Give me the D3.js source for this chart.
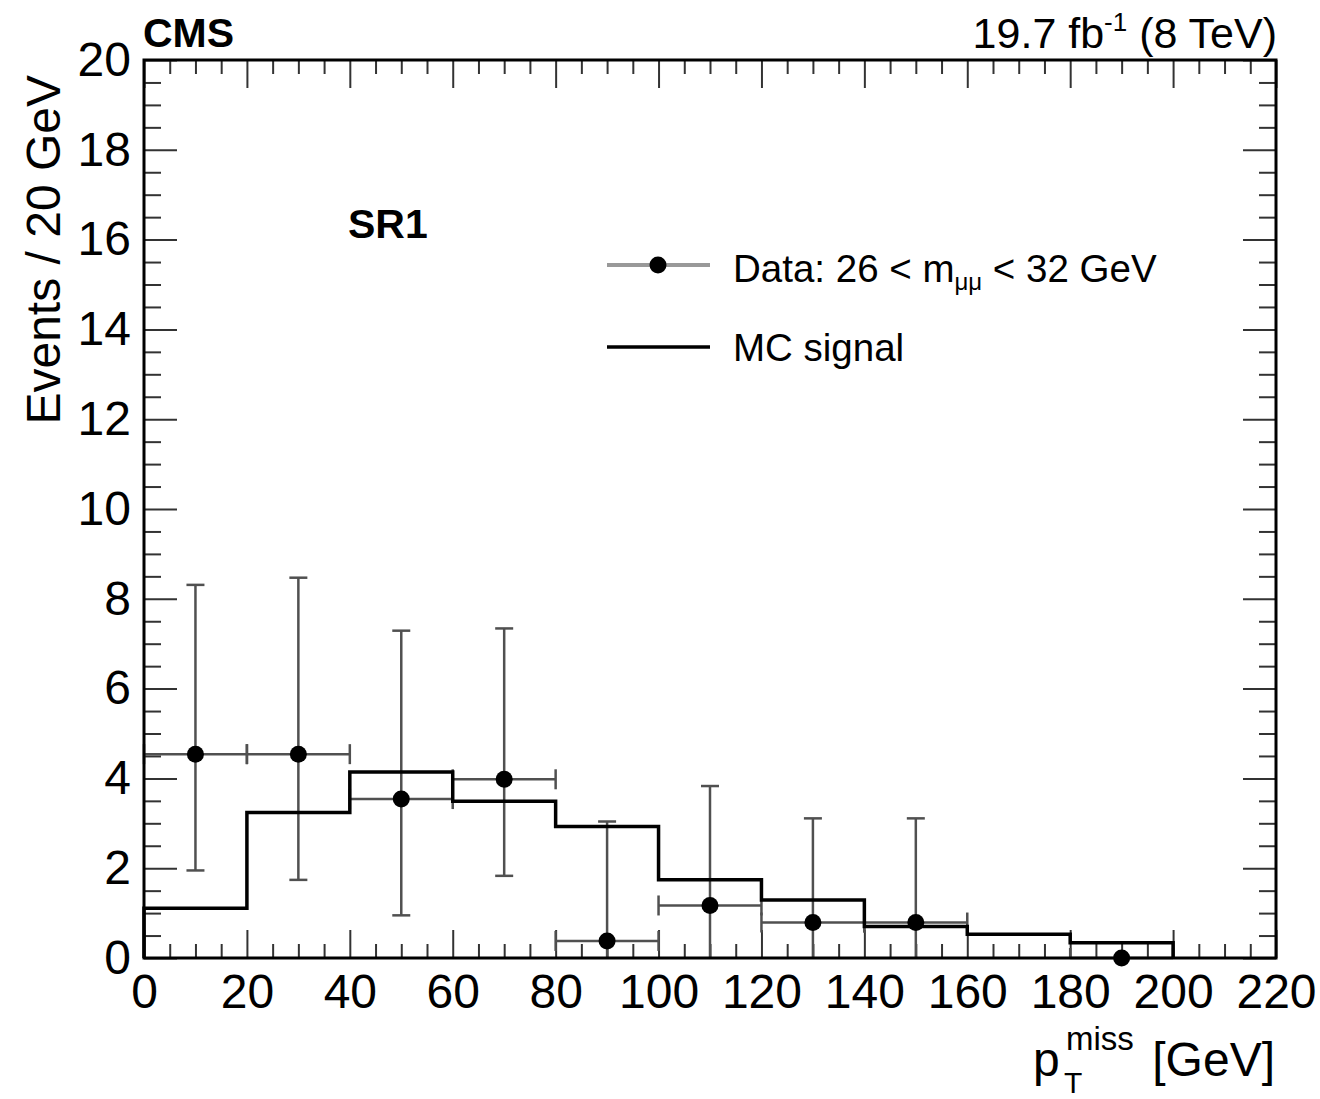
<!DOCTYPE html>
<html>
<head>
<meta charset="utf-8">
<script src="https://cdn.jsdelivr.net/npm/d3@7"></script>
<style>
  html, body { margin: 0; padding: 0; background: #fff; }
  svg { display: block; }
  text { font-family: "Liberation Sans", Arial, Helvetica, sans-serif; fill: #000; }
</style>
</head>
<body>
<svg id="chart" width="1320" height="1099"></svg>
<script>
// ---------------- data ----------------
const binEdges = [0, 20, 40, 60, 80, 100, 120, 140, 160, 180, 200];
const mcSignal = [1.11, 3.24, 4.14, 3.49, 2.93, 1.74, 1.29, 0.70, 0.53, 0.34];

const dataX    = [10, 30, 50, 70, 90, 110, 130, 150, 190];
const dataY    = [4.54, 4.54, 3.54, 3.98, 0.38, 1.17, 0.79, 0.79, 0.0];
const dataLow  = [1.95, 1.74, 0.95, 1.83, 0.0, 0.0, 0.0, 0.0, 0.0];
const dataHigh = [8.31, 8.47, 7.29, 7.34, 3.04, 3.83, 3.11, 3.11, 0.0];
const binHalfWidth = 10;

const xMajorTicks = [0, 20, 40, 60, 80, 100, 120, 140, 160, 180, 200, 220];
const yMajorTicks = [0, 2, 4, 6, 8, 10, 12, 14, 16, 18, 20];
const xMinorTicks = d3.range(0, 221, 5).filter(v => v % 20 !== 0);
const yMinorTicks = d3.range(0, 20.01, 0.5).filter(v => Math.abs(v % 2) > 1e-9);

// ---------------- layout ----------------
const L = 144, R = 1276, T = 60, B = 958;
const svg = d3.select("#chart");
const x = d3.scaleLinear().domain([0, 220]).range([L, R]);
const y = d3.scaleLinear().domain([0, 20]).range([B, T]);

const tickColor = "#333";

function styleAxis(g, labelled) {
  g.select(".domain").remove();
  g.selectAll(".tick line").attr("stroke", tickColor).attr("stroke-width", 2);
  if (labelled) {
    g.selectAll(".tick text").attr("font-size", 48)
      .attr("font-family", '"Liberation Sans", Arial, sans-serif').attr("fill", "#000");
  } else {
    g.selectAll(".tick text").remove();
  }
}

// bottom axis
svg.append("g").attr("transform", `translate(0,${B})`)
  .call(d3.axisBottom(x).tickValues(xMajorTicks).tickSize(-28).tickPadding(16).tickFormat(d3.format("d")))
  .call(g => styleAxis(g, true));
svg.append("g").attr("transform", `translate(0,${B})`)
  .call(d3.axisBottom(x).tickValues(xMinorTicks).tickSize(-14).tickFormat(""))
  .call(g => styleAxis(g, false));
// top axis
svg.append("g").attr("transform", `translate(0,${T})`)
  .call(d3.axisTop(x).tickValues(xMajorTicks).tickSize(-28).tickFormat(""))
  .call(g => styleAxis(g, false));
svg.append("g").attr("transform", `translate(0,${T})`)
  .call(d3.axisTop(x).tickValues(xMinorTicks).tickSize(-14).tickFormat(""))
  .call(g => styleAxis(g, false));
// left axis
svg.append("g").attr("transform", `translate(${L},0)`)
  .call(d3.axisLeft(y).tickValues(yMajorTicks).tickSize(-33).tickPadding(13).tickFormat(d3.format("d")))
  .call(g => styleAxis(g, true));
svg.append("g").attr("transform", `translate(${L},0)`)
  .call(d3.axisLeft(y).tickValues(yMinorTicks).tickSize(-17).tickFormat(""))
  .call(g => styleAxis(g, false));
// right axis
svg.append("g").attr("transform", `translate(${R},0)`)
  .call(d3.axisRight(y).tickValues(yMajorTicks).tickSize(-33).tickFormat(""))
  .call(g => styleAxis(g, false));
svg.append("g").attr("transform", `translate(${R},0)`)
  .call(d3.axisRight(y).tickValues(yMinorTicks).tickSize(-17).tickFormat(""))
  .call(g => styleAxis(g, false));

// ---------------- data error bars ----------------
const errColor = "#505050";
const eb = svg.append("g").attr("stroke", errColor).attr("stroke-width", 2.5).attr("fill", "none");
dataX.forEach((cx, i) => {
  const px = x(cx), py = y(dataY[i]);
  // horizontal bar with end caps
  const xl = x(cx - binHalfWidth), xr = x(cx + binHalfWidth);
  eb.append("line").attr("x1", xl).attr("x2", xr).attr("y1", py).attr("y2", py);
  eb.append("line").attr("x1", xl).attr("x2", xl).attr("y1", py - 10).attr("y2", Math.min(py + 10, B));
  eb.append("line").attr("x1", xr).attr("x2", xr).attr("y1", py - 10).attr("y2", Math.min(py + 10, B));
  // vertical bar with caps
  if (dataHigh[i] > dataY[i]) {
    const yt = y(dataHigh[i]), yb = y(dataLow[i]);
    eb.append("line").attr("x1", px).attr("x2", px).attr("y1", yt).attr("y2", yb);
    eb.append("line").attr("x1", px - 9).attr("x2", px + 9).attr("y1", yt).attr("y2", yt);
    if (dataLow[i] > 0) {
      eb.append("line").attr("x1", px - 9).attr("x2", px + 9).attr("y1", yb).attr("y2", yb);
    }
  }
});

// ---------------- MC histogram ----------------
const histPts = [[binEdges[0], 0]];
mcSignal.forEach((v, i) => {
  histPts.push([binEdges[i], v]);
  histPts.push([binEdges[i + 1], v]);
});
histPts.push([binEdges[binEdges.length - 1], 0]);
svg.append("path")
  .attr("d", d3.line().x(d => x(d[0])).y(d => y(d[1]))(histPts))
  .attr("fill", "none").attr("stroke", "#000").attr("stroke-width", 3.5)
  .attr("stroke-linejoin", "miter");

// data markers
svg.append("g").selectAll("circle").data(dataX).join("circle")
  .attr("cx", d => x(d)).attr("cy", (d, i) => y(dataY[i])).attr("r", 8.5).attr("fill", "#000");

// ---------------- frame ----------------
svg.append("rect").attr("x", L).attr("y", T).attr("width", R - L).attr("height", B - T)
  .attr("fill", "none").attr("stroke", "#000").attr("stroke-width", 3);

// ---------------- texts ----------------
svg.append("text").attr("x", 143).attr("y", 47).attr("font-size", 41).attr("font-weight", "bold").text("CMS");

const lumi = svg.append("text").attr("x", 1277).attr("y", 48).attr("font-size", 43).attr("text-anchor", "end");
lumi.append("tspan").text("19.7 fb");
lumi.append("tspan").attr("font-size", 26).attr("dy", -17).text("-1");
lumi.append("tspan").attr("dy", 17).text(" (8 TeV)");

svg.append("text").attr("x", 348).attr("y", 238).attr("font-size", 41).attr("font-weight", "bold").text("SR1");

// legend
const lg = svg.append("g");
lg.append("line").attr("x1", 607).attr("x2", 710).attr("y1", 265).attr("y2", 265)
  .attr("stroke", "#999").attr("stroke-width", 4);
lg.append("circle").attr("cx", 658).attr("cy", 265).attr("r", 8.5).attr("fill", "#000");
const t1 = lg.append("text").attr("x", 733).attr("y", 282).attr("font-size", 38.5);
t1.append("tspan").text("Data: 26 < m");
t1.append("tspan").attr("font-size", 24).attr("dy", 8).text("μμ");
t1.append("tspan").attr("dy", -8).text(" < 32 GeV");
lg.append("line").attr("x1", 607).attr("x2", 710).attr("y1", 347).attr("y2", 347)
  .attr("stroke", "#000").attr("stroke-width", 3.5);
lg.append("text").attr("x", 733).attr("y", 361).attr("font-size", 38.5).text("MC signal");

// axis titles
svg.append("text").attr("transform", "translate(60,75) rotate(-90)")
  .attr("text-anchor", "end").attr("font-size", 48).text("Events / 20 GeV");

svg.append("text").attr("x", 1275).attr("y", 1076).attr("text-anchor", "end").attr("font-size", 48).text("[GeV]");
svg.append("text").attr("x", 1033).attr("y", 1076).attr("font-size", 48).text("p");
svg.append("text").attr("x", 1066).attr("y", 1050).attr("font-size", 33).text("miss");
svg.append("text").attr("x", 1064).attr("y", 1093).attr("font-size", 30).text("T");
</script>
</body>
</html>
